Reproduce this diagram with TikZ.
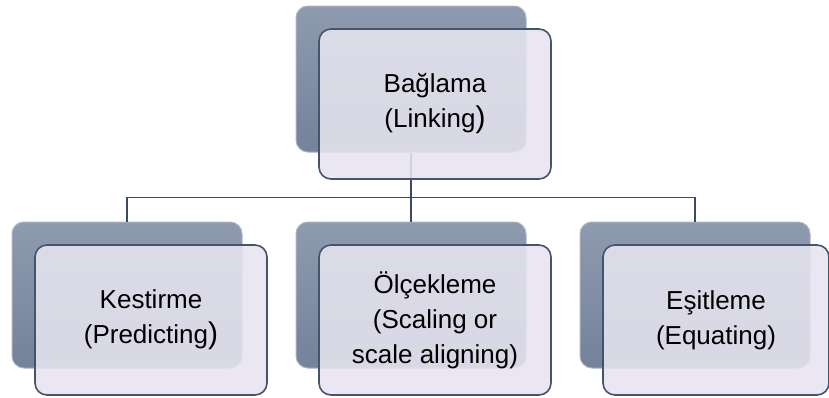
\documentclass[tikz,border=0pt]{standalone}
\usepackage{fontspec}
\setmainfont{Liberation Sans}
\usetikzlibrary{calc}

\definecolor{backtop}{HTML}{8E9AAF}
\definecolor{backbot}{HTML}{74829A}
\definecolor{backedge}{HTML}{A9B3C4}
\definecolor{frontfill}{HTML}{E7E4F0}
\definecolor{frontedge}{HTML}{46546A}
\definecolor{connline}{HTML}{3A4A60}

\tikzset{
	backbox/.style = {rounded corners = 12pt, top color = backtop, bottom color = backbot,
		draw = backedge, line width = 1pt, minimum width = 230pt, minimum height = 146pt},
	frontbox/.style = {rounded corners = 12pt, fill = frontfill, fill opacity = 0.88, text opacity = 1,
		draw = frontedge, line width = 1.6pt, minimum width = 232pt, minimum height = 150pt,
		align = center, font = \fontsize{26}{35}\selectfont},
	conn/.style = {draw = connline, line width = 1.9pt}
}
\newcommand{\bigparen}{{\fontsize{30}{35}\selectfont )}}

\begin{document}
\begin{tikzpicture}[x = 1pt, y = -1pt]
		\useasboundingbox (0,0) rectangle (829,397);
		
		% back boxes
		\node[backbox] (linkB) at (411,79) {};
		\node[backbox] (predB) at (127,295) {};
		\node[backbox] (scaleB) at (411,295) {};
		\node[backbox] (equB) at (695,295) {};
		
		% connectors
		\draw[conn] (linkB.south) -- (scaleB.north);
		\draw[conn] (predB.north) -- ++(0,-24) -| (equB.north);
		
		% front boxes
		\node[frontbox] (link) at ($(linkB)+(24,25)$) {Bağlama\\(Linking\bigparen};
		\node[frontbox] (pred) at ($(predB)+(24,25)$) {Kestirme\\(Predicting\bigparen};
		\node[frontbox] (scale) at ($(scaleB)+(24,25)$) {Ölçekleme\\(Scaling or\\scale aligning)};
		\node[frontbox, minimum width = 226pt] (equ) at ($(equB)+(21,25)$) {Eşitleme\\(Equating)};
	\end{tikzpicture}
\end{document}
